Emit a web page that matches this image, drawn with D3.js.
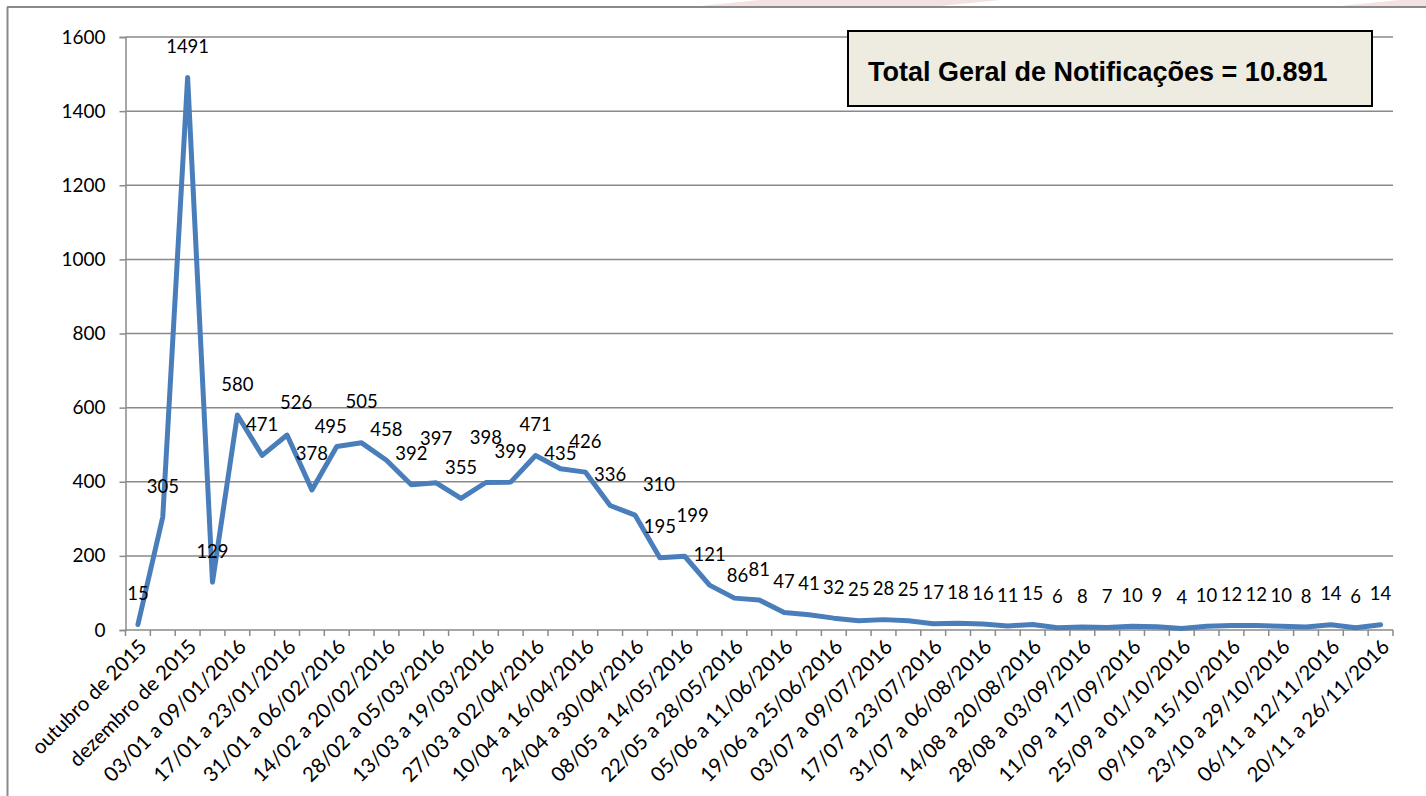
<!DOCTYPE html>
<html>
<head>
<meta charset="utf-8">
<script src="https://cdn.jsdelivr.net/npm/d3@7"></script>
<style>
  html, body { margin: 0; padding: 0; background: #ffffff; }
  svg { display: block; }
</style>
</head>
<body>
<svg id="chart" width="1426" height="796"></svg>
<script>
// ---- data ----
const categories = [
  "outubro de 2015", "novembro de 2015", "dezembro de 2015", "27/12 a 02/01/2016",
  "03/01 a 09/01/2016", "10/01 a 16/01/2016", "17/01 a 23/01/2016", "24/01 a 30/01/2016",
  "31/01 a 06/02/2016", "07/02 a 13/02/2016", "14/02 a 20/02/2016", "21/02 a 27/02/2016",
  "28/02 a 05/03/2016", "06/03 a 12/03/2016", "13/03 a 19/03/2016", "20/03 a 26/03/2016",
  "27/03 a 02/04/2016", "03/04 a 09/04/2016", "10/04 a 16/04/2016", "17/04 a 23/04/2016",
  "24/04 a 30/04/2016", "01/05 a 07/05/2016", "08/05 a 14/05/2016", "15/05 a 21/05/2016",
  "22/05 a 28/05/2016", "29/05 a 04/06/2016", "05/06 a 11/06/2016", "12/06 a 18/06/2016",
  "19/06 a 25/06/2016", "26/06 a 02/07/2016", "03/07 a 09/07/2016", "10/07 a 16/07/2016",
  "17/07 a 23/07/2016", "24/07 a 30/07/2016", "31/07 a 06/08/2016", "07/08 a 13/08/2016",
  "14/08 a 20/08/2016", "21/08 a 27/08/2016", "28/08 a 03/09/2016", "04/09 a 10/09/2016",
  "11/09 a 17/09/2016", "18/09 a 24/09/2016", "25/09 a 01/10/2016", "02/10 a 08/10/2016",
  "09/10 a 15/10/2016", "16/10 a 22/10/2016", "23/10 a 29/10/2016", "30/10 a 05/11/2016",
  "06/11 a 12/11/2016", "13/11 a 19/11/2016", "20/11 a 26/11/2016"
];
const notificacoes = [
  15, 305, 1491, 129, 580, 471, 526, 378, 495, 505, 458, 392, 397, 355, 398, 399,
  471, 435, 426, 336, 310, 195, 199, 121, 86, 81, 47, 41, 32, 25, 28, 25, 17, 18,
  16, 11, 15, 6, 8, 7, 10, 9, 4, 10, 12, 12, 10, 8, 14, 6, 14
];
const yTicks = [0, 200, 400, 600, 800, 1000, 1200, 1400, 1600];
const titleText = "Total Geral de Notificações = 10.891";

// ---- layout (not data) ----
const svg = d3.select("#chart");
const plot = { left: 125.5, right: 1393, top: 37, bottom: 630 };
const font = "Lato, 'Open Sans', sans-serif";
const gridColor = "#8a8a8a";
// manual label nudges (as placed in the original), keyed by point index: [dx, extra lift]
const labelNudge = { 6: [9, 2], 7: [0, 6], 8: [-6, -11], 9: [0, 10], 12: [0, 14], 14: [0, 14],
                     17: [0, -16], 20: [24, 0], 22: [8, 10], 24: [3, -8] };
const baseLift = 31;

// decorative background swooshes at the very top (faint)
const deco = svg.append("g").attr("opacity", 0.3);
deco.append("path").attr("d", "M690,7 L760,0 L1000,0 L930,7 Z").attr("fill", "#d99a9a");
deco.append("path").attr("d", "M1330,7 L1400,0 L1426,0 L1426,7 Z").attr("fill", "#d99a9a");

// outer frame lines
svg.append("line").attr("x1", 7).attr("x2", 1426).attr("y1", 7).attr("y2", 7)
  .attr("stroke", gridColor).attr("stroke-width", 2);
svg.append("line").attr("x1", 7.5).attr("x2", 7.5).attr("y1", 7).attr("y2", 796)
  .attr("stroke", gridColor).attr("stroke-width", 2);

const x = d3.scaleBand().domain(categories).range([plot.left, plot.right]).padding(0);
const y = d3.scaleLinear().domain([0, 1600]).range([plot.bottom, plot.top]);
const cx = d => x(d) + x.bandwidth() / 2;

// gridlines
svg.append("g").selectAll("line").data(yTicks.filter(t => t > 0)).join("line")
  .attr("x1", plot.left).attr("x2", plot.right)
  .attr("y1", d => y(d)).attr("y2", d => y(d))
  .attr("stroke", gridColor).attr("stroke-width", 1.5);

// y axis
const yAxis = svg.append("g").attr("transform", `translate(${plot.left},0)`)
  .call(d3.axisLeft(y).tickValues(yTicks).tickSize(6).tickPadding(14).tickFormat(d3.format("d")));
yAxis.select(".domain").attr("stroke", gridColor).attr("stroke-width", 1.5);
yAxis.selectAll(".tick line").attr("stroke", gridColor).attr("stroke-width", 1.5);
yAxis.selectAll(".tick text").attr("font-family", font).attr("font-size", 19).attr("fill", "#000");

// x axis
const xAxis = svg.append("g").attr("transform", `translate(0,${plot.bottom})`);
xAxis.append("line").attr("x1", plot.left).attr("x2", plot.right).attr("y1", 0).attr("y2", 0)
  .attr("stroke", gridColor).attr("stroke-width", 1.5);
const boundaries = categories.map(c => x(c)).concat([plot.right]);
xAxis.selectAll("line.tk").data(boundaries).join("line").attr("class", "tk")
  .attr("x1", d => d).attr("x2", d => d).attr("y1", 0).attr("y2", 6)
  .attr("stroke", gridColor).attr("stroke-width", 1.5);
xAxis.selectAll("text").data(categories.filter((c, i) => i % 2 === 0)).join("text")
  .attr("transform", d => `translate(${cx(d) + 5},${13}) rotate(-45)`)
  .attr("text-anchor", "end")
  .attr("dy", "0.35em")
  .attr("font-family", font).attr("font-size", 20.5).attr("fill", "#000")
  .text(d => d);

// line
const pts = categories.map((c, i) => ({ c, v: notificacoes[i], i }));
svg.append("path").datum(pts)
  .attr("fill", "none").attr("stroke", "#4a7ebb").attr("stroke-width", 5)
  .attr("stroke-linejoin", "round").attr("stroke-linecap", "round")
  .attr("d", d3.line().x(d => cx(d.c)).y(d => y(d.v)));

// data labels
svg.append("g").selectAll("text").data(pts).join("text")
  .attr("x", d => cx(d.c) + (labelNudge[d.i] ? labelNudge[d.i][0] : 0))
  .attr("y", d => y(d.v) - baseLift - (labelNudge[d.i] ? labelNudge[d.i][1] : 0))
  .attr("dy", "0.36em")
  .attr("text-anchor", "middle")
  .attr("font-family", font).attr("font-size", 18.5).attr("fill", "#000")
  .text(d => d.v);

// title box
svg.append("rect").attr("x", 848).attr("y", 31).attr("width", 524).attr("height", 75)
  .attr("fill", "#eeece1").attr("stroke", "#000").attr("stroke-width", 2);
svg.append("text").attr("x", 868).attr("y", 81)
  .attr("font-family", "'Liberation Sans', Arial, sans-serif").attr("font-weight", "bold")
  .attr("font-size", 27).attr("fill", "#000").text(titleText);
</script>
</body>
</html>
